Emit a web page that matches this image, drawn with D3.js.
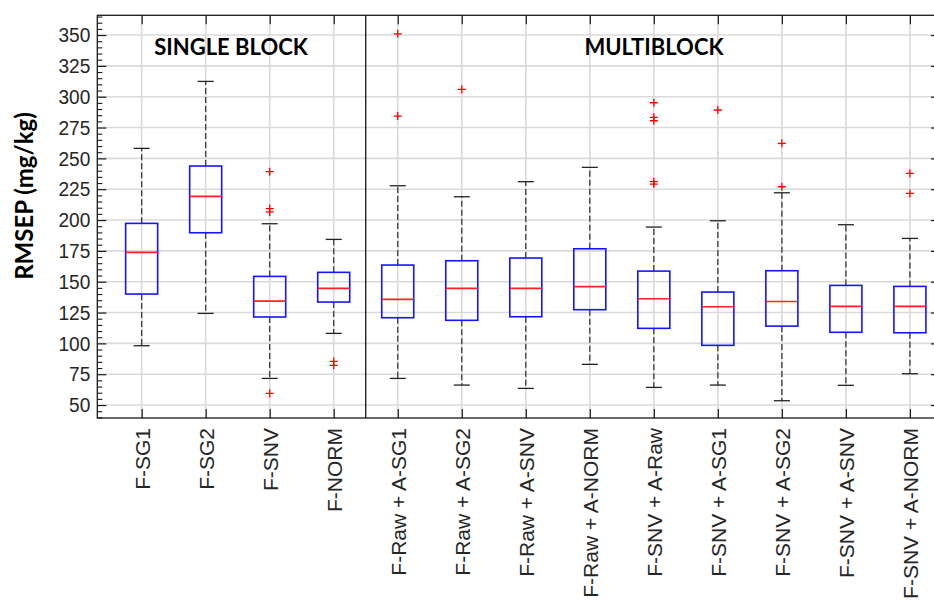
<!DOCTYPE html>
<html>
<head>
<meta charset="utf-8">
<script src="https://cdn.jsdelivr.net/npm/d3@7"></script>
<style>
  html, body { margin: 0; padding: 0; background: #fff; }
  svg { display: block; }
</style>
</head>
<body>
<svg id="chart" width="934" height="605"></svg>
<script>
// ---- Data ----
const categories = ["F-SG1", "F-SG2", "F-SNV", "F-NORM",
  "F-Raw + A-SG1", "F-Raw + A-SG2", "F-Raw + A-SNV", "F-Raw + A-NORM",
  "F-SNV + A-Raw", "F-SNV + A-SG1", "F-SNV + A-SG2", "F-SNV + A-SNV", "F-SNV + A-NORM"];
const whiskerLow  = [98.1, 124.3, 71.6, 108.1, 71.6, 66.2, 63.5, 83.0, 64.3, 66.2, 53.5, 66.0, 75.4];
const q1          = [140.0, 189.7, 121.4, 133.5, 120.8, 118.7, 121.6, 127.3, 112.2, 98.4, 114.0, 109.0, 108.6];
const medians     = [173.8, 219.2, 134.3, 144.6, 135.7, 144.6, 144.6, 146.0, 136.2, 129.7, 134.0, 130.0, 130.0];
const q3          = [197.3, 243.8, 154.3, 157.6, 163.5, 167.0, 169.2, 176.7, 158.6, 141.6, 158.9, 147.0, 146.2];
const whiskerHigh = [258.1, 312.4, 197.0, 184.3, 227.8, 218.9, 231.1, 242.7, 194.3, 199.4, 222.1, 196.2, 185.1];
const outliers = [
  [],
  [],
  [239.2, 209.3, 206.6, 59.5],
  [85.4, 82.2],
  [351.0, 284.3],
  [306.0],
  [],
  [],
  [295.1, 283.3, 280.5, 231.1, 229.2],
  [289.2],
  [262.2, 227.0],
  [],
  [237.8, 221.6]
];
const yTicks = [50, 75, 100, 125, 150, 175, 200, 225, 250, 275, 300, 325, 350];
const groupTitles = ["SINGLE BLOCK", "MULTIBLOCK"];
const yTitle = "RMSEP (mg/kg)";

// ---- Layout ----
const pL = 97.3, pR = 940, pT = 15.3, pB = 418;
const svg = d3.select("#chart");

const positions = categories.map((d, i) => i + 1);
const x = d3.scaleLinear().domain([0.307, 13.47]).range([pL, pR]);
const y = d3.scaleLinear().domain([39.5, 366]).range([pB, pT]);
const boxW = x(1.25) - x(0.75);
const capW = x(1.125) - x(0.875);

// grid
const grid = svg.append("g");
grid.selectAll("line.h").data(yTicks).join("line")
  .attr("x1", pL).attr("x2", pR)
  .attr("y1", d => y(d)).attr("y2", d => y(d))
  .attr("stroke", "#dadada").attr("stroke-width", 1.6);
grid.selectAll("line.v").data(positions).join("line")
  .attr("x1", d => x(d)).attr("x2", d => x(d))
  .attr("y1", pT).attr("y2", pB)
  .attr("stroke", "#dadada").attr("stroke-width", 1.6);

// divider between single and multi block
svg.append("line")
  .attr("x1", x(4.5)).attr("x2", x(4.5))
  .attr("y1", pT).attr("y2", pB)
  .attr("stroke", "#000").attr("stroke-width", 1.2);

// boxes
const g = svg.append("g");
categories.forEach((c, i) => {
  const cx = x(positions[i]);
  const dash = "6,3";
  g.append("line").attr("x1", cx).attr("x2", cx)
    .attr("y1", y(q3[i])).attr("y2", y(whiskerHigh[i]))
    .attr("stroke", "#3a3a3a").attr("stroke-width", 1.3).attr("stroke-dasharray", dash);
  g.append("line").attr("x1", cx).attr("x2", cx)
    .attr("y1", y(q1[i])).attr("y2", y(whiskerLow[i]))
    .attr("stroke", "#3a3a3a").attr("stroke-width", 1.3).attr("stroke-dasharray", dash);
  [whiskerHigh[i], whiskerLow[i]].forEach(v => {
    g.append("line").attr("x1", cx - capW / 2).attr("x2", cx + capW / 2)
      .attr("y1", y(v)).attr("y2", y(v))
      .attr("stroke", "#222").attr("stroke-width", 1.3);
  });
  g.append("rect")
    .attr("x", cx - boxW / 2).attr("width", boxW)
    .attr("y", y(q3[i])).attr("height", y(q1[i]) - y(q3[i]))
    .attr("fill", "none").attr("stroke", "#1515ff").attr("stroke-width", 1.6);
  g.append("line").attr("x1", cx - boxW / 2).attr("x2", cx + boxW / 2)
    .attr("y1", y(medians[i])).attr("y2", y(medians[i]))
    .attr("stroke", "#ff2020").attr("stroke-width", 1.6);
  outliers[i].forEach(v => {
    const py = y(v);
    g.append("path")
      .attr("d", `M${cx - 4},${py}H${cx + 4}M${cx},${py - 4}V${py + 4}`)
      .attr("stroke", "#ff0000").attr("stroke-width", 1.3).attr("fill", "none");
  });
});

// frame
svg.append("rect").attr("x", pL).attr("y", pT)
  .attr("width", pR - pL).attr("height", pB - pT)
  .attr("fill", "none").attr("stroke", "#1a1a1a").attr("stroke-width", 1.3);

const font = "'Liberation Sans', Arial, sans-serif";

// left axis major
const yAxis = svg.append("g").attr("transform", `translate(${pL},0)`)
  .call(d3.axisLeft(y).tickValues(yTicks).tickSize(-9).tickPadding(7));
yAxis.select(".domain").remove();
yAxis.selectAll(".tick line").attr("stroke", "#1a1a1a").attr("stroke-width", 1.2);
yAxis.selectAll("text")
  .attr("font-family", font).attr("font-size", 21).attr("fill", "#262626")
  .attr("x", -7 / 0.91).attr("transform", "scale(0.91,1)");

// left axis minor
const minorVals = d3.range(40, 366, 5).filter(v => v % 25 !== 0);
const yMinor = svg.append("g").attr("transform", `translate(${pL},0)`)
  .call(d3.axisLeft(y).tickValues(minorVals).tickSize(-5).tickFormat(""));
yMinor.select(".domain").remove();
yMinor.selectAll(".tick line").attr("stroke", "#1a1a1a").attr("stroke-width", 1.1);

// right axis
const yRight = svg.append("g").attr("transform", `translate(${pR},0)`)
  .call(d3.axisRight(y).tickValues(yTicks).tickSize(-9).tickFormat(""));
yRight.select(".domain").remove();
yRight.selectAll(".tick line").attr("stroke", "#1a1a1a").attr("stroke-width", 1.2);

// top axis
const xTop = svg.append("g").attr("transform", `translate(0,${pT})`)
  .call(d3.axisTop(x).tickValues(positions).tickSize(-9).tickFormat(""));
xTop.select(".domain").remove();
xTop.selectAll(".tick line").attr("stroke", "#1a1a1a").attr("stroke-width", 1.2);

// bottom axis
const xBottom = svg.append("g").attr("transform", `translate(0,${pB})`)
  .call(d3.axisBottom(x).tickValues(positions).tickSize(-9).tickFormat((d, i) => categories[i]));
xBottom.select(".domain").remove();
xBottom.selectAll(".tick line").attr("stroke", "#1a1a1a").attr("stroke-width", 1.2);
xBottom.selectAll("text")
  .attr("font-family", font).attr("font-size", 21).attr("fill", "#262626")
  .attr("transform", "rotate(-90)")
  .attr("text-anchor", "end")
  .attr("x", -10).attr("y", 0).attr("dy", "0.36em");

// group titles
svg.append("text").attr("x", 231).attr("y", 55)
  .attr("text-anchor", "middle").attr("font-family", "Lato, 'Open Sans', sans-serif")
  .attr("font-weight", "bold").attr("font-size", 22).attr("fill", "#000")
  .text(groupTitles[0]);
svg.append("text").attr("x", 654).attr("y", 55)
  .attr("text-anchor", "middle").attr("font-family", "Lato, 'Open Sans', sans-serif")
  .attr("font-weight", "bold").attr("font-size", 22).attr("fill", "#000")
  .text(groupTitles[1]);

// y title
svg.append("text")
  .attr("transform", "translate(33,196) rotate(-90)")
  .attr("text-anchor", "middle").attr("font-family", "Lato, 'Open Sans', sans-serif")
  .attr("font-weight", "bold").attr("font-size", 24).attr("fill", "#000")
  .text(yTitle);
</script>
</body>
</html>
